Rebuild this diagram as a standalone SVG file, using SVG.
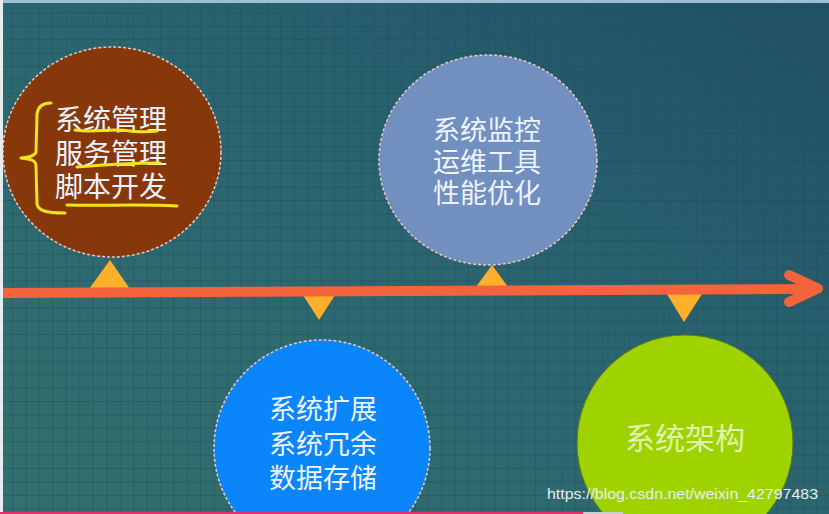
<svg xmlns="http://www.w3.org/2000/svg" width="829" height="514" viewBox="0 0 829 514">
  <defs>
    <linearGradient id="bg" x1="0" y1="1" x2="1" y2="0">
      <stop offset="0" stop-color="#33706f"/>
      <stop offset="0.5" stop-color="#2b6670"/>
      <stop offset="1" stop-color="#1f4f66"/>
    </linearGradient>
    <pattern id="grid" width="13.4" height="13.4" patternUnits="userSpaceOnUse">
      <path d="M13.4 0V13.4M0 13.4H13.4" fill="none" stroke="#1c4a55" stroke-width="1.2" stroke-opacity="0.6"/>
    </pattern>
    <style>
      .lbl { font-family: "Noto Sans CJK SC", "Noto Sans", sans-serif; fill: #eef3ff; text-anchor: middle; }
      .dash { stroke: #e9c9c0; stroke-width: 1.5; stroke-dasharray: 3 2; }
      .tri { fill: #ffb02a; }
      .hand { fill: none; stroke: #f3e31c; stroke-width: 3; stroke-linecap: round; stroke-linejoin: round; }
    </style>
  </defs>

  <rect x="0" y="0" width="829" height="514" fill="url(#bg)"/>
  <rect x="0" y="0" width="829" height="514" fill="url(#grid)"/>
  <rect x="0" y="0" width="829" height="3" fill="#9dbfd0"/>
  <rect x="0" y="0" width="3" height="514" fill="#e6ecef"/>

  <g id="connectors">
    <polygon class="tri" points="89,289 110,260 130,289"/>
    <polygon class="tri" points="301,292 337,292 319,320"/>
    <polygon class="tri" points="473,291 511,291 492,265"/>
    <polygon class="tri" points="665,291 704,291 684,322"/>
    <line x1="3" y1="293" x2="816" y2="289" stroke="#f4633c" stroke-width="10"/>
    <polyline points="789,275 818,288.5 789,302" fill="none" stroke="#f4633c" stroke-width="10" stroke-linecap="round" stroke-linejoin="round"/>
  </g>

  <g id="node-manage">
    <ellipse cx="112" cy="152" rx="109" ry="105" fill="#87380b" class="dash"/>
    <text class="lbl" x="111" y="130" font-size="28" fill="#ffffff">系统管理</text>
    <text class="lbl" x="111" y="164" font-size="28">服务管理</text>
    <text class="lbl" x="111" y="197" font-size="28">脚本开发</text>
    <path class="hand" d="M51,103 C44,103 38,106 37,114 L36,152 C35,156 30,157 21,158 C30,159 36,160 36,166 L37,204 C38,210 44,213 65,213"/>
    <path class="hand" d="M75,130 C95,133 110,128 130,131 C142,133 150,131 157,131"/>
    <path class="hand" d="M77,167 C100,165 125,163 160,163"/>
    <path class="hand" d="M67,205 C100,206 140,204 177,206"/>
  </g>

  <g id="node-monitor">
    <ellipse cx="488" cy="160" rx="109" ry="105" fill="#7190c0" class="dash"/>
    <text class="lbl" x="487" y="140" font-size="27">系统监控</text>
    <text class="lbl" x="487" y="172" font-size="27">运维工具</text>
    <text class="lbl" x="487" y="203" font-size="27">性能优化</text>
  </g>

  <g id="node-expand">
    <circle cx="322" cy="448" r="108" fill="#0b85fa" class="dash"/>
    <text class="lbl" x="323" y="419" font-size="27">系统扩展</text>
    <text class="lbl" x="323" y="454" font-size="27">系统冗余</text>
    <text class="lbl" x="323" y="488" font-size="27">数据存储</text>
  </g>

  <g id="node-arch">
    <circle cx="685" cy="443" r="108" fill="#9fd300" stroke="#5c7a20" stroke-width="1"/>
    <text class="lbl" x="685" y="449" font-size="30" style="fill:#dff3b0">系统架构</text>
  </g>

  <text x="547" y="499" font-family="Liberation Sans, Arial, sans-serif" font-size="15" fill="#e8eef2" textLength="271" lengthAdjust="spacingAndGlyphs">https://blog.csdn.net/weixin_42797483</text>

  <rect x="0" y="512" width="583" height="2" fill="#ee2a6a"/>
  <rect x="583" y="512" width="40" height="2" fill="#c9d0d4"/>
</svg>
